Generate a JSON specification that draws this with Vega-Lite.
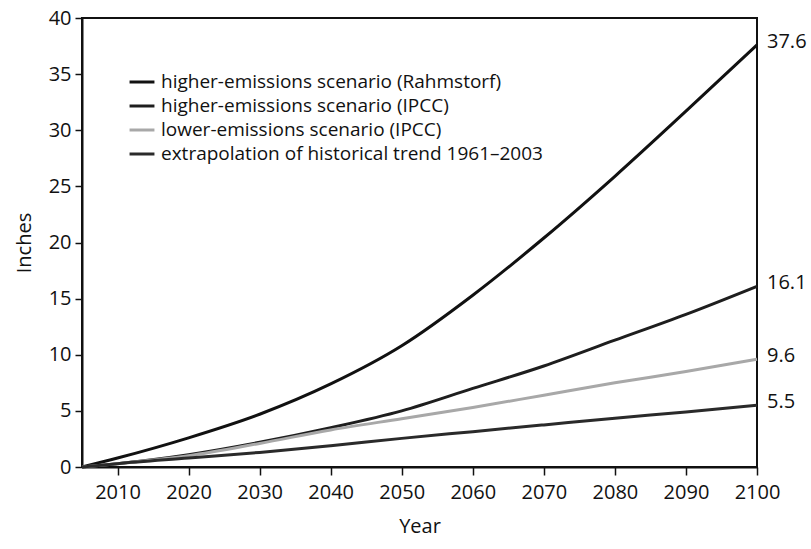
{
  "$schema": "https://vega.github.io/schema/vega-lite/v6.json",
  "width": 675,
  "height": 449,
  "autosize": "none",
  "padding": {"left": 82, "top": 18, "right": 54, "bottom": 82},
  "background": "white",
  "config": {
    "font": "Open Sans",
    "view": {"stroke": "#111", "strokeWidth": 2},
    "axis": {"grid": false, "domainColor": "#111", "domainWidth": 2, "tickColor": "#111", "tickWidth": 1.5, "labelColor": "#111", "titleColor": "#111", "labelFontSize": 20, "titleFontSize": 20, "titleFontWeight": "normal", "labelFlush": false}
  },
  "data": {"values": [
    {"year": 2005, "value": 0, "series": "higher-emissions scenario (Rahmstorf)"},
    {"year": 2010, "value": 0.8, "series": "higher-emissions scenario (Rahmstorf)"},
    {"year": 2020, "value": 2.6, "series": "higher-emissions scenario (Rahmstorf)"},
    {"year": 2030, "value": 4.7, "series": "higher-emissions scenario (Rahmstorf)"},
    {"year": 2040, "value": 7.4, "series": "higher-emissions scenario (Rahmstorf)"},
    {"year": 2050, "value": 10.8, "series": "higher-emissions scenario (Rahmstorf)"},
    {"year": 2060, "value": 15.3, "series": "higher-emissions scenario (Rahmstorf)"},
    {"year": 2070, "value": 20.4, "series": "higher-emissions scenario (Rahmstorf)"},
    {"year": 2080, "value": 25.9, "series": "higher-emissions scenario (Rahmstorf)"},
    {"year": 2090, "value": 31.7, "series": "higher-emissions scenario (Rahmstorf)"},
    {"year": 2100, "value": 37.6, "series": "higher-emissions scenario (Rahmstorf)"},
    {"year": 2005, "value": 0, "series": "higher-emissions scenario (IPCC)"},
    {"year": 2010, "value": 0.3, "series": "higher-emissions scenario (IPCC)"},
    {"year": 2020, "value": 1.1, "series": "higher-emissions scenario (IPCC)"},
    {"year": 2030, "value": 2.2, "series": "higher-emissions scenario (IPCC)"},
    {"year": 2040, "value": 3.5, "series": "higher-emissions scenario (IPCC)"},
    {"year": 2050, "value": 5.0, "series": "higher-emissions scenario (IPCC)"},
    {"year": 2060, "value": 7.0, "series": "higher-emissions scenario (IPCC)"},
    {"year": 2070, "value": 9.0, "series": "higher-emissions scenario (IPCC)"},
    {"year": 2080, "value": 11.3, "series": "higher-emissions scenario (IPCC)"},
    {"year": 2090, "value": 13.6, "series": "higher-emissions scenario (IPCC)"},
    {"year": 2100, "value": 16.1, "series": "higher-emissions scenario (IPCC)"},
    {"year": 2005, "value": 0, "series": "lower-emissions scenario (IPCC)"},
    {"year": 2010, "value": 0.3, "series": "lower-emissions scenario (IPCC)"},
    {"year": 2020, "value": 1.0, "series": "lower-emissions scenario (IPCC)"},
    {"year": 2030, "value": 2.1, "series": "lower-emissions scenario (IPCC)"},
    {"year": 2040, "value": 3.3, "series": "lower-emissions scenario (IPCC)"},
    {"year": 2050, "value": 4.3, "series": "lower-emissions scenario (IPCC)"},
    {"year": 2060, "value": 5.3, "series": "lower-emissions scenario (IPCC)"},
    {"year": 2070, "value": 6.4, "series": "lower-emissions scenario (IPCC)"},
    {"year": 2080, "value": 7.5, "series": "lower-emissions scenario (IPCC)"},
    {"year": 2090, "value": 8.5, "series": "lower-emissions scenario (IPCC)"},
    {"year": 2100, "value": 9.6, "series": "lower-emissions scenario (IPCC)"},
    {"year": 2005, "value": 0, "series": "extrapolation of historical trend 1961–2003"},
    {"year": 2010, "value": 0.3, "series": "extrapolation of historical trend 1961–2003"},
    {"year": 2020, "value": 0.8, "series": "extrapolation of historical trend 1961–2003"},
    {"year": 2030, "value": 1.3, "series": "extrapolation of historical trend 1961–2003"},
    {"year": 2040, "value": 1.9, "series": "extrapolation of historical trend 1961–2003"},
    {"year": 2050, "value": 2.55, "series": "extrapolation of historical trend 1961–2003"},
    {"year": 2060, "value": 3.15, "series": "extrapolation of historical trend 1961–2003"},
    {"year": 2070, "value": 3.75, "series": "extrapolation of historical trend 1961–2003"},
    {"year": 2080, "value": 4.35, "series": "extrapolation of historical trend 1961–2003"},
    {"year": 2090, "value": 4.9, "series": "extrapolation of historical trend 1961–2003"},
    {"year": 2100, "value": 5.5, "series": "extrapolation of historical trend 1961–2003"}
  ]},
  "layer": [
    {
      "mark": {"type": "line", "strokeWidth": 3, "interpolate": "monotone"},
      "encoding": {
        "x": {"field": "year", "type": "quantitative", "scale": {"domain": [2005, 2100], "nice": false, "zero": false},
              "axis": {"values": [2010, 2020, 2030, 2040, 2050, 2060, 2070, 2080, 2090, 2100], "format": "d", "title": "Year", "tickSize": 8, "labelPadding": 7, "titlePadding": 14}},
        "y": {"field": "value", "type": "quantitative", "scale": {"domain": [0, 40], "nice": false},
              "axis": {"values": [0, 5, 10, 15, 20, 25, 30, 35, 40], "title": "Inches", "tickSize": 7, "labelPadding": 4, "titlePadding": 14}},
        "color": {"field": "series", "type": "nominal",
                  "scale": {"domain": ["higher-emissions scenario (Rahmstorf)", "higher-emissions scenario (IPCC)", "lower-emissions scenario (IPCC)", "extrapolation of historical trend 1961–2003"],
                            "range": ["#111111", "#1e1e1e", "#a8a8a8", "#2a2a2a"]},
                  "legend": {"title": null, "orient": "none", "legendX": 46, "legendY": 50, "symbolType": "stroke", "symbolSize": 620, "symbolStrokeWidth": 3, "labelFontSize": 19, "labelColor": "#111", "rowPadding": -1.5, "labelOffset": 5, "labelLimit": 500}}
      }
    },
    {
      "transform": [{"filter": "datum.year == 2100"}],
      "mark": {"type": "text", "align": "left", "baseline": "middle", "dx": 10, "dy": -3, "fontSize": 20, "color": "#111"},
      "encoding": {
        "x": {"field": "year", "type": "quantitative"},
        "y": {"field": "value", "type": "quantitative"},
        "text": {"field": "value", "type": "quantitative", "format": ".1f"}
      }
    }
  ]
}
